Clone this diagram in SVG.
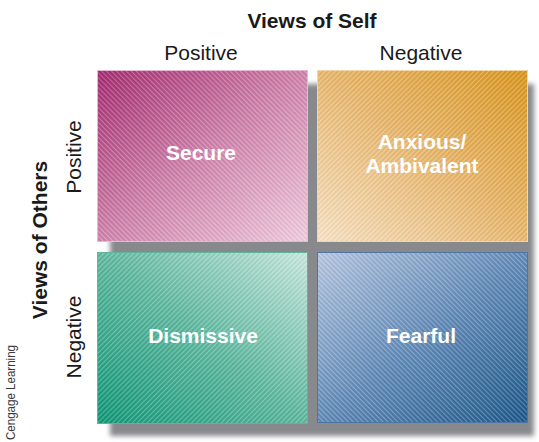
<svg xmlns="http://www.w3.org/2000/svg" width="539" height="442" viewBox="0 0 539 442">
  <style>
    .title { font-family: "Liberation Sans", Arial, sans-serif; font-weight: bold; font-size: 21px; fill: #1a1a1a; }
    .axis { font-family: "Liberation Sans", Arial, sans-serif; font-size: 21px; fill: #1a1a1a; }
    .label { font-family: "Liberation Sans", Arial, sans-serif; font-weight: bold; font-size: 21px; fill: #ffffff; text-anchor: middle; }
    .credit { font-family: "Liberation Sans", Arial, sans-serif; font-size: 12px; fill: #3a3a3a; }
    .box { stroke-width: 1; }
  </style>
  <defs>
    <filter id="soft" x="-5%" y="-5%" width="110%" height="110%">
      <feGaussianBlur stdDeviation="2.5"/>
    </filter>
    <!-- colour ramps for the four quadrants -->
    <linearGradient id="gSecure" x1="0" y1="0" x2="1" y2="1">
      <stop offset="0" stop-color="#a32a6e"/>
      <stop offset="0.5" stop-color="#cd80a9"/>
      <stop offset="1" stop-color="#eec9dc"/>
    </linearGradient>
    <linearGradient id="gAnxious" x1="1" y1="0" x2="0" y2="1">
      <stop offset="0" stop-color="#d8941c"/>
      <stop offset="0.5" stop-color="#e6b56c"/>
      <stop offset="1" stop-color="#f5e0c2"/>
    </linearGradient>
    <linearGradient id="gDismissive" x1="0" y1="1" x2="1" y2="0">
      <stop offset="0" stop-color="#0f9676"/>
      <stop offset="0.5" stop-color="#5cb69d"/>
      <stop offset="1" stop-color="#c5e5db"/>
    </linearGradient>
    <linearGradient id="gFearful" x1="0" y1="0" x2="1" y2="1">
      <stop offset="0" stop-color="#b3c4de"/>
      <stop offset="0.5" stop-color="#6089b6"/>
      <stop offset="1" stop-color="#1c5788"/>
    </linearGradient>
    <!-- fine diagonal hatching laid over each fill -->
    <pattern id="hatchUp" patternUnits="userSpaceOnUse" width="3.5" height="4" patternTransform="rotate(-45)">
      <line x1="0.5" y1="0" x2="0.5" y2="4" stroke="#ffffff" stroke-width="1" stroke-opacity="0.28"/>
      <line x1="2.2" y1="0" x2="2.2" y2="4" stroke="#000000" stroke-width="0.6" stroke-opacity="0.06"/>
    </pattern>
    <pattern id="hatchDown" patternUnits="userSpaceOnUse" width="3.5" height="4" patternTransform="rotate(45)">
      <line x1="0.5" y1="0" x2="0.5" y2="4" stroke="#ffffff" stroke-width="1" stroke-opacity="0.28"/>
      <line x1="2.2" y1="0" x2="2.2" y2="4" stroke="#000000" stroke-width="0.6" stroke-opacity="0.06"/>
    </pattern>
  </defs>

  <rect width="539" height="442" fill="#ffffff"/>

  <!-- backing panel behind the grid -->
  <rect x="110" y="84" width="424" height="352" fill="#88898d" filter="url(#soft)"/>

  <!-- axis titles -->
  <text class="title" x="312" y="28" text-anchor="middle">Views of Self</text>
  <text class="axis" x="201" y="60" text-anchor="middle">Positive</text>
  <text class="axis" x="421" y="60" text-anchor="middle">Negative</text>
  <text class="title" transform="translate(47,240) rotate(-90)" text-anchor="middle">Views of Others</text>
  <text class="axis" transform="translate(81,157) rotate(-90)" text-anchor="middle">Positive</text>
  <text class="axis" transform="translate(81,337) rotate(-90)" text-anchor="middle">Negative</text>
  <text class="credit" transform="translate(15,440) rotate(-90)" textLength="95" lengthAdjust="spacingAndGlyphs">Cengage Learning</text>

  <g id="secure">
    <rect class="box" x="97.5" y="70.5" width="210" height="171" fill="url(#gSecure)" stroke="#e7b9d0"/>
    <rect x="98" y="71" width="209" height="170" fill="url(#hatchUp)"/>
    <text class="label" x="201" y="160">Secure</text>
  </g>
  <g id="anxious">
    <rect class="box" x="317.5" y="70.5" width="210" height="171" fill="url(#gAnxious)" stroke="#f3d6a8"/>
    <rect x="318" y="71" width="209" height="170" fill="url(#hatchDown)"/>
    <text class="label" x="422" y="149">Anxious/</text>
    <text class="label" x="422" y="173">Ambivalent</text>
  </g>
  <g id="dismissive">
    <rect class="box" x="97.5" y="252.5" width="210" height="171" fill="url(#gDismissive)" stroke="#5fb59c"/>
    <rect x="98" y="253" width="209" height="170" fill="url(#hatchDown)"/>
    <text class="label" x="203" y="343">Dismissive</text>
  </g>
  <g id="fearful">
    <rect class="box" x="317.5" y="252.5" width="210" height="170" fill="url(#gFearful)" stroke="#4e76a4"/>
    <rect x="318" y="253" width="209" height="169" fill="url(#hatchUp)"/>
    <text class="label" x="421" y="343">Fearful</text>
  </g>

  <g id="connectors"/>
</svg>
